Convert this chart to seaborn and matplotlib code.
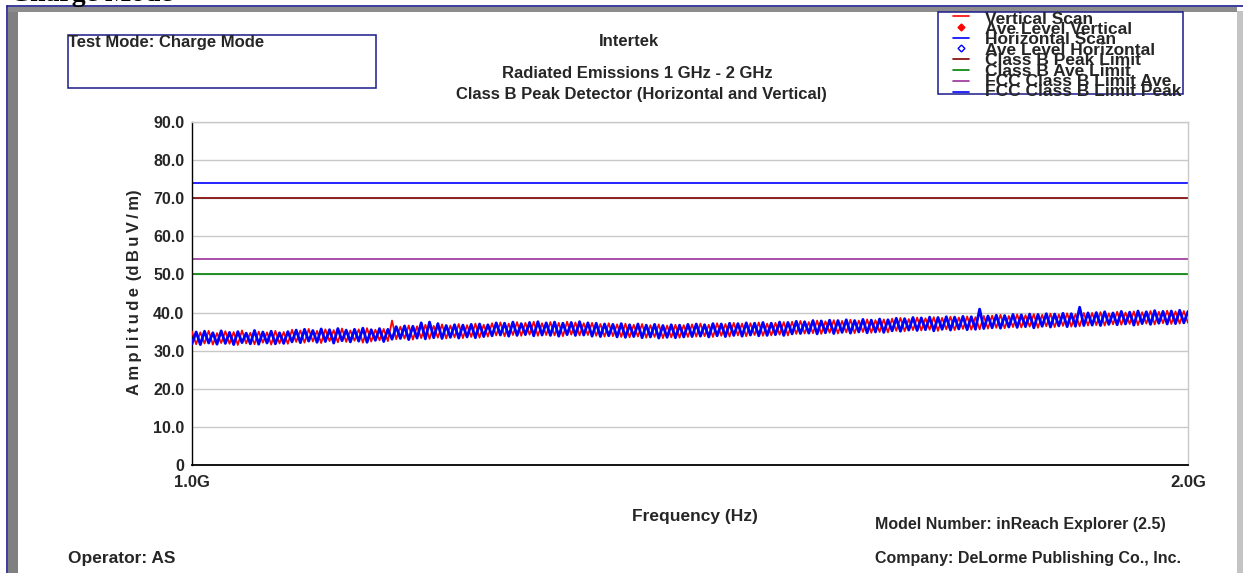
import numpy as np
import pandas as pd
import matplotlib
matplotlib.use("Agg")
import matplotlib.pyplot as plt
import seaborn as sns
from matplotlib import font_manager
from matplotlib.lines import Line2D
from matplotlib.patches import Rectangle
from matplotlib.ticker import FixedLocator, MultipleLocator, FuncFormatter

# ---------------- data (dBuV/m, 1.0 GHz -> 2.0 GHz) ----------------
vertical_scan = [
    35.0, 31.7, 34.8, 31.9, 35.2, 31.6, 34.6, 32.0, 35.1, 31.8, 34.9, 31.5, 35.3, 31.9, 34.7, 31.7, 35.0, 32.1, 34.8, 31.6, 35.2, 31.9, 34.9, 31.8,
    35.5, 32.3, 35.3, 32.1, 35.7, 32.4, 35.2, 32.0, 35.6, 32.5, 35.4, 32.2, 35.8, 32.3, 35.3, 32.6, 35.6, 32.1, 35.9, 32.4, 35.5, 32.7, 35.7, 32.5,
    37.9, 33.0, 36.3, 33.2, 36.6, 32.9, 36.4, 33.3, 36.8, 33.1, 36.5, 33.4, 36.9, 33.2, 36.6, 33.5, 37.0, 33.3, 36.7, 33.6, 37.1, 33.4, 36.8, 33.7,
    37.2, 34.0, 37.4, 33.8, 37.1, 34.1, 37.5, 33.9, 37.3, 34.2, 37.6, 33.9, 37.2, 34.1, 37.5, 34.0, 37.3, 33.8, 37.6, 34.2, 37.4, 34.0, 37.2, 34.1,
    37.3, 33.9, 37.0, 33.7, 37.2, 33.8, 36.9, 33.6, 37.1, 33.5, 36.8, 33.7, 37.0, 33.4, 36.7, 33.6, 36.9, 33.3, 36.6, 33.5, 36.8, 33.4, 36.7, 33.6,
    36.9, 33.7, 37.1, 33.8, 36.8, 33.6, 37.2, 33.9, 37.0, 33.7, 37.3, 34.0, 37.1, 33.8, 37.2, 34.1, 37.4, 33.9, 37.1, 34.0, 37.3, 34.2, 37.5, 34.0,
    37.6, 34.4, 37.8, 34.5, 37.5, 34.6, 37.9, 34.4, 37.7, 34.7, 38.0, 34.5, 37.8, 34.8, 38.1, 34.6, 37.9, 34.9, 38.2, 34.7, 38.0, 34.9, 38.2, 34.8,
    38.4, 35.2, 38.6, 35.1, 38.3, 35.4, 38.7, 35.3, 38.5, 35.5, 38.8, 35.2, 38.6, 35.6, 38.9, 35.4, 38.7, 35.7, 39.0, 35.5, 38.8, 35.6, 39.1, 35.8,
    39.2, 36.0, 39.4, 35.9, 39.1, 36.2, 39.5, 36.1, 39.3, 36.3, 39.6, 36.0, 39.4, 36.4, 39.7, 36.2, 39.5, 36.5, 39.8, 36.3, 39.6, 36.4, 39.9, 36.6,
    39.9, 36.7, 40.1, 36.6, 39.8, 36.9, 40.2, 36.8, 40.0, 37.0, 40.3, 36.7, 40.1, 37.1, 40.4, 36.9, 40.2, 37.2, 40.5, 37.0, 40.3, 37.1, 40.4, 37.3,
]
horizontal_scan = [
    31.8, 34.9, 31.6, 35.1, 32.0, 34.7, 31.7, 35.2, 31.9, 34.8, 31.6, 35.0, 32.1, 34.6, 31.8, 35.3, 31.7, 34.9, 32.0, 35.1, 31.8, 34.7, 31.9, 35.0,
    32.3, 35.4, 32.1, 35.6, 32.5, 35.3, 32.2, 35.7, 32.4, 35.5, 32.0, 35.8, 32.6, 35.4, 32.3, 35.6, 32.5, 35.9, 32.2, 35.5, 32.7, 35.8, 32.4, 35.6,
    33.0, 36.3, 33.2, 36.5, 32.9, 36.4, 33.3, 37.3, 33.1, 37.5, 33.4, 37.1, 33.2, 36.6, 33.5, 36.8, 33.3, 36.7, 33.6, 36.9, 33.4, 37.0, 33.7, 36.8,
    33.9, 37.3, 34.1, 37.2, 33.8, 37.5, 34.0, 37.1, 34.2, 37.4, 33.9, 37.6, 34.1, 37.3, 34.0, 37.5, 33.8, 37.2, 34.2, 37.4, 34.0, 37.6, 34.1, 37.3,
    33.8, 37.2, 33.7, 37.0, 33.9, 36.9, 33.6, 37.1, 33.5, 36.8, 33.7, 37.0, 33.4, 36.7, 33.6, 36.9, 33.3, 36.6, 33.5, 36.8, 33.4, 36.7, 33.6, 36.9,
    33.7, 37.0, 33.8, 36.8, 33.6, 37.1, 33.9, 37.0, 33.7, 37.2, 34.0, 37.1, 33.8, 37.3, 34.1, 37.2, 33.9, 37.4, 34.0, 37.2, 34.2, 37.5, 34.0, 37.4,
    34.4, 37.7, 34.5, 37.6, 34.6, 37.9, 34.4, 37.8, 34.7, 38.0, 34.5, 37.9, 34.8, 38.1, 34.6, 37.9, 34.9, 38.2, 34.7, 38.0, 34.9, 38.3, 34.8, 38.1,
    35.2, 38.5, 35.1, 38.4, 35.4, 38.7, 35.3, 38.6, 35.5, 38.8, 35.2, 38.7, 35.6, 38.9, 35.4, 38.8, 35.7, 39.0, 35.5, 38.9, 35.6, 40.9, 35.8, 39.1,
    36.0, 39.3, 35.9, 39.2, 36.2, 39.5, 36.1, 39.4, 36.3, 39.6, 36.0, 39.5, 36.4, 39.7, 36.2, 39.6, 36.5, 39.8, 36.3, 39.7, 36.4, 41.4, 36.6, 39.9,
    36.7, 40.0, 36.6, 40.2, 36.9, 39.9, 36.8, 40.3, 37.0, 40.1, 36.7, 40.4, 37.1, 40.2, 36.9, 40.5, 37.2, 40.3, 37.0, 40.4, 37.1, 40.6, 37.3, 40.3,
]
freq_start_hz = 1.0e9
freq_stop_hz = 2.0e9

limit_names = ["Class B Peak Limit", "Class B Ave Limit", "FCC Class B Limit Ave", "FCC Class B Limit Peak"]
limit_values = [70.0, 50.0, 54.0, 74.0]
limit_colors = ["#800000", "#008000", "#9b309b", "#0000ff"]

legend_labels = ["Vertical Scan", "Ave Level Vertical", "Horizontal Scan", "Ave Level Horizontal",
                 "Class B Peak Limit", "Class B Ave Limit", "FCC Class B Limit Ave", "FCC Class B Limit Peak"]

y_ticks = [0, 10, 20, 30, 40, 50, 60, 70, 80, 90]
x_ticks_ghz = [1.0, 1.1, 1.2, 1.3, 1.4, 1.5, 1.6, 1.7, 1.8, 1.9, 2.0]
x_tick_text = {1.0: "1.0G", 2.0: "2.0G"}

# ---------------- style ----------------
sns.set_style("white")


def have(name):
    try:
        font_manager.findfont(font_manager.FontProperties(family=name), fallback_to_default=False)
        return True
    except Exception:
        return False


SANS = "Liberation Sans" if have("Liberation Sans") else "DejaVu Sans"
NARROW = "Liberation Sans Narrow" if have("Liberation Sans Narrow") else SANS
SERIF = "Liberation Serif" if have("Liberation Serif") else "DejaVu Serif"
plt.rcParams["font.family"] = [SANS, "DejaVu Sans"]

W, H = 1243, 573
fig = plt.figure(figsize=(W / 100, H / 100), dpi=100)
fig.patch.set_facecolor("white")


def fx(x):
    return x / W


def fy(y):
    return 1 - y / H


# ---------------- frame decoration ----------------
fig.add_artist(Rectangle((fx(7.5), 0), fx(18) - fx(7.5), fy(8), transform=fig.transFigure,
                         facecolor="#808080", edgecolor="none", zorder=0))
fig.add_artist(Rectangle((fx(7.5), fy(12)), fx(1237) - fx(7.5), fy(7) - fy(12), transform=fig.transFigure,
                         facecolor="#8c8c8c", edgecolor="none", zorder=0))
fig.add_artist(Rectangle((fx(1237), 0), fx(W) - fx(1237), fy(11), transform=fig.transFigure,
                         facecolor="#c4c4c4", edgecolor="none", zorder=0))
fig.add_artist(Line2D([fx(6.5), fx(6.5)], [0, fy(6)], transform=fig.transFigure, color="#1a1a8c", lw=1.2))
fig.add_artist(Line2D([fx(6.5), fx(W)], [fy(6), fy(6)], transform=fig.transFigure, color="#1a1a8c", lw=1.2))
fig.text(fx(10), fy(1.0), "Charge Mode", fontsize=20, family=SERIF, fontweight="bold",
         ha="left", va="baseline", color="black")

# ---------------- axes ----------------
ax = fig.add_axes([fx(192), fy(465), fx(1188) - fx(192), fy(122) - fy(465)])
ax.set_facecolor("white")

n = len(vertical_scan)
freqs = np.linspace(freq_start_hz, freq_stop_hz, n) / 1e9
df_v = pd.DataFrame({"freq": freqs, "amp": vertical_scan})
df_h = pd.DataFrame({"freq": freqs, "amp": horizontal_scan})

for val in y_ticks[1:]:
    ax.axhline(val, color="#c8c8c8", lw=1.0, zorder=0)

for name, val, col in zip(limit_names, limit_values, limit_colors):
    ax.hlines(val, freq_start_hz / 1e9, freq_stop_hz / 1e9, color=col, lw=1.2, zorder=2)

sns.lineplot(data=df_v, x="freq", y="amp", color="#ff0000", lw=1.3, ax=ax,
             estimator=None, sort=False, zorder=3)
sns.lineplot(data=df_h, x="freq", y="amp", color="#0000ff", lw=2.0, ax=ax,
             estimator=None, sort=False, zorder=4)

ax.set_xlim(freq_start_hz / 1e9, freq_stop_hz / 1e9)
ax.set_ylim(0, 90)
ax.set_xlabel("")
ax.set_ylabel("")

ax.yaxis.set_major_locator(FixedLocator(y_ticks))
ax.yaxis.set_minor_locator(MultipleLocator(2))
ax.yaxis.set_major_formatter(FuncFormatter(lambda v, p: "0" if v == 0 else f"{v:.1f}"))
ax.xaxis.set_major_locator(FixedLocator(x_ticks_ghz))
ax.xaxis.set_major_formatter(FuncFormatter(lambda v, p: x_tick_text.get(round(v, 1), "")))

ax.tick_params(axis="y", which="major", direction="inout", length=9, width=1, color="black",
               labelsize=11.5, pad=1)
ax.tick_params(axis="y", which="minor", direction="inout", length=6, width=1, color="black")
ax.tick_params(axis="x", which="major", direction="inout", length=9, width=1, color="black",
               labelsize=12, pad=3)
for lab in ax.get_yticklabels() + ax.get_xticklabels():
    lab.set_fontweight("bold")

for s in ["top", "right"]:
    ax.spines[s].set_visible(True)
    ax.spines[s].set_color("#c8c8c8")
    ax.spines[s].set_linewidth(1.0)
ax.spines["left"].set_color("black")
ax.spines["left"].set_linewidth(1.0)
ax.spines["bottom"].set_color("black")
ax.spines["bottom"].set_linewidth(1.3)
ax.spines["bottom"].set_zorder(5)

# ---------------- texts ----------------
fig.add_artist(Rectangle((fx(68), fy(88)), fx(376) - fx(68), fy(35) - fy(88), transform=fig.transFigure,
                         facecolor="none", edgecolor="#1a1a8c", lw=1.1))
fig.text(fx(68), fy(43), "Test Mode: Charge Mode", fontsize=12, fontweight="bold", ha="left", va="center")
fig.text(fx(629), fy(42), "Intertek", fontsize=12, fontweight="bold", ha="center", va="center")
fig.text(fx(637), fy(73), "Radiated Emissions 1 GHz - 2 GHz", fontsize=12, fontweight="bold",
         ha="center", va="center")
fig.text(fx(641), fy(95), "Class B Peak Detector (Horizontal and Vertical)", fontsize=12,
         fontweight="bold", ha="center", va="center")

ylab = "\u2009".join("Amplitude") + "\u2009\u2009(" + "\u2009".join("dBuV/m") + ")"
fig.text(fx(134), fy(292), ylab, fontsize=12, fontweight="bold", rotation=90, ha="center",
         va="center", family=[SANS, "DejaVu Sans"])
fig.text(fx(695), fy(517), "Frequency (Hz)", fontsize=12.5, fontweight="bold", ha="center", va="center")
fig.text(fx(875), fy(525), "Model Number: inReach Explorer (2.5)", fontsize=11.5, fontweight="bold",
         ha="left", va="center")
fig.text(fx(875), fy(558), "Company: DeLorme Publishing Co., Inc.", fontsize=11.5, fontweight="bold",
         ha="left", va="center")
fig.text(fx(68), fy(558), "Operator: AS", fontsize=12.5, fontweight="bold", ha="left", va="center")

# ---------------- legend (overlapping, as in the original report) ----------------
fig.add_artist(Rectangle((fx(938), fy(94)), fx(1183) - fx(938), fy(12) - fy(94), transform=fig.transFigure,
                         facecolor="none", edgecolor="#1a1a8c", lw=1.1))
leg_styles = [
    dict(kind="line", color="#ff0000"),
    dict(kind="marker", color="#ff0000", fill=True),
    dict(kind="line", color="#0000ff"),
    dict(kind="marker", color="#0000ff", fill=False),
    dict(kind="line", color=limit_colors[0]),
    dict(kind="line", color=limit_colors[1]),
    dict(kind="line", color=limit_colors[2]),
    dict(kind="line", color=limit_colors[3]),
]
for i, (lab, st) in enumerate(zip(legend_labels, leg_styles)):
    yc = 19 + i * 10.4
    ys = 16 + i * 10.8
    if st["kind"] == "line":
        fig.add_artist(Line2D([fx(953), fx(969)], [fy(ys), fy(ys)], transform=fig.transFigure,
                              color=st["color"], lw=1.2))
    else:
        fig.add_artist(Line2D([fx(961)], [fy(ys)], transform=fig.transFigure, marker="D", ms=3.5,
                              color=st["color"], mfc=st["color"] if st["fill"] else "white",
                              mec=st["color"], mew=1.0, lw=0))
    fig.text(fx(985), fy(yc), lab, fontsize=12.5, fontweight="bold", family=[NARROW, "DejaVu Sans"],
             ha="left", va="center")

fig.savefig("out.png", dpi=100, facecolor="white")
